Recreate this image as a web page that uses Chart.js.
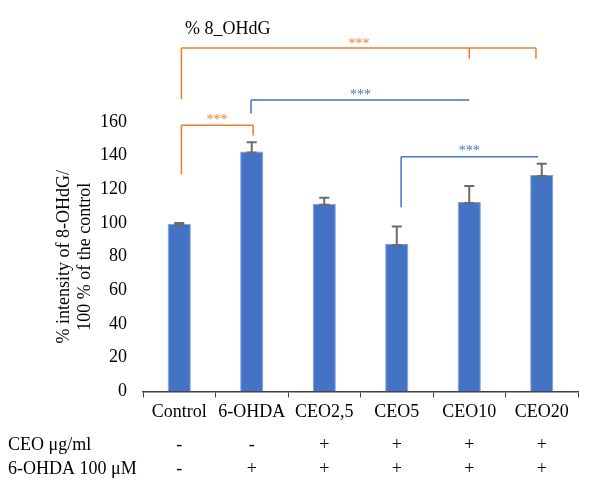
<!DOCTYPE html>
<html>
<head>
<meta charset="utf-8">
<script src="https://cdn.jsdelivr.net/npm/chart.js@4"></script>
<style>
  html, body { margin: 0; padding: 0; background: #fff; }
  #wrap { width: 600px; height: 497px; }
</style>
</head>
<body>
<div id="wrap"><canvas id="chart"></canvas></div>
<script>
"use strict";
const categories = ['Control', '6-OHDA', 'CEO2,5', 'CEO5', 'CEO10', 'CEO20'];
const means = [99.5, 142.5, 111.5, 87.5, 112.5, 128.5];
const errors = [0.5, 5.5, 3.5, 10.5, 9.5, 6.7];
const ceoRow = ['-', '-', '+', '+', '+', '+'];
const ohdaRow = ['-', '+', '+', '+', '+', '+'];
const rowLabels = ['CEO μg/ml', '6-OHDA 100 μM'];
const chartTitle = '% 8_OHdG';
const yTitle = ['% intensity of 8-OHdG/', '100 % of the control'];

// significance brackets, x in category index, y in axis units
const brackets = [
  { color: '#ED7D31', x1: 0.03, x2: 4.92, y: 204, legs: [[0.03, 173.5], [4.0, 197.5], [4.92, 197.5]], starX: 2.48, starY: 208 },
  { color: '#4472C4', x1: 0.99, x2: 4.0, y: 173, legs: [[0.99, 165]], starX: 2.5, starY: 177.5 },
  { color: '#ED7D31', x1: 0.03, x2: 1.02, y: 158, legs: [[0.03, 129], [1.02, 152]], starX: 0.52, starY: 163 },
  { color: '#4472C4', x1: 3.06, x2: 4.95, y: 139.4, legs: [[3.06, 109.4]], starX: 4.0, starY: 144.5 }
];

const FONT = 'Liberation Serif';

const extras = {
  id: 'extras',
  afterDatasetsDraw(chart) {
    const ctx = chart.ctx;
    const xs = chart.scales.x, ys = chart.scales.y;
    ctx.save();
    // error bars
    ctx.strokeStyle = '#6b6b6b';
    ctx.lineWidth = 2;
    means.forEach((m, i) => {
      const px = xs.getPixelForValue(i);
      const top = ys.getPixelForValue(m + errors[i]);
      const base = ys.getPixelForValue(m) + 1;
      ctx.beginPath();
      ctx.moveTo(px, base); ctx.lineTo(px, top);
      ctx.moveTo(px - 5, top); ctx.lineTo(px + 5, top);
      ctx.moveTo(px - 5, base); ctx.lineTo(px + 5, base);
      ctx.stroke();
    });
    // brackets
    ctx.lineWidth = 1.5;
    brackets.forEach(b => {
      ctx.strokeStyle = b.color;
      const yb = ys.getPixelForValue(b.y);
      ctx.beginPath();
      ctx.moveTo(xs.getPixelForValue(b.x1), yb);
      ctx.lineTo(xs.getPixelForValue(b.x2), yb);
      b.legs.forEach(l => {
        const lx = xs.getPixelForValue(l[0]);
        ctx.moveTo(lx, yb);
        ctx.lineTo(lx, ys.getPixelForValue(l[1]));
      });
      ctx.stroke();
      ctx.fillStyle = b.color;
      ctx.font = '14px ' + FONT;
      ctx.textAlign = 'center';
      ctx.textBaseline = 'middle';
      ctx.fillText('***', xs.getPixelForValue(b.starX), ys.getPixelForValue(b.starY) + 3);
    });
    // title
    ctx.fillStyle = '#000';
    ctx.font = '18px ' + FONT;
    ctx.textAlign = 'left';
    ctx.textBaseline = 'middle';
    ctx.fillText(chartTitle, 185, 29);
    // treatment table
    const rowY = [445, 469];
    [ceoRow, ohdaRow].forEach((row, r) => {
      ctx.textAlign = 'left';
      ctx.fillText(rowLabels[r], 8, rowY[r]);
      ctx.textAlign = 'center';
      row.forEach((s, i) => ctx.fillText(s, xs.getPixelForValue(i), rowY[r]));
    });
    ctx.restore();
  }
};

new Chart(document.getElementById('chart'), {
  type: 'bar',
  data: {
    labels: categories,
    datasets: [{
      data: means,
      backgroundColor: '#4472C4',
      borderColor: '#7f9fd6',
      borderWidth: 1,
      categoryPercentage: 1,
      barPercentage: 0.32
    }]
  },
  options: {
    responsive: true,
    maintainAspectRatio: false,
    animation: false,
    events: [],
    layout: { padding: { top: 122, right: 22, bottom: 70, left: 53 } },
    plugins: { legend: { display: false }, tooltip: { enabled: false } },
    scales: {
      x: {
        grid: { display: true, drawOnChartArea: false, drawTicks: true, tickLength: 6, color: '#404040', offset: true },
        border: { display: true, color: '#404040', width: 1.5 },
        ticks: { color: '#000', font: { family: FONT, size: 18 }, padding: 4, maxRotation: 0, autoSkip: false }
      },
      y: {
        min: 0, max: 160,
        grid: { display: false },
        border: { display: false },
        ticks: { stepSize: 20, color: '#000', font: { family: FONT, size: 18 }, padding: 8 },
        title: { display: true, text: yTitle, color: '#000', font: { family: FONT, size: 18 }, padding: { top: 0, bottom: 18 } },
        afterFit(scale) { scale.width = 90; }
      }
    }
  },
  plugins: [extras]
});
</script>
</body>
</html>
